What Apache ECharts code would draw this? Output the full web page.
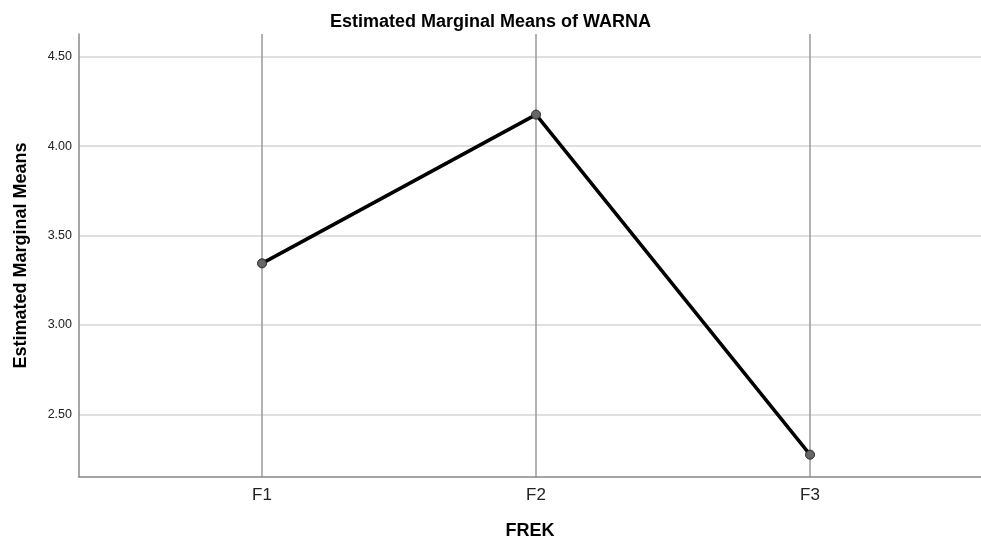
<!DOCTYPE html>
<html>
<head>
<meta charset="utf-8">
<script src="https://cdn.jsdelivr.net/npm/echarts@6/dist/echarts.min.js"></script>
<style>
html, body { margin: 0; padding: 0; background: #fff; }
#chart { width: 981px; height: 540px; }
</style>
</head>
<body>
<div id="chart"></div>
<script>
var categories = ['F1', 'F2', 'F3'];
var means = [3.344, 4.176, 2.274];
var yTicks = [2.5, 3.0, 3.5, 4.0, 4.5];

var font = 'Arial, "Liberation Sans", sans-serif';
var chart = echarts.init(document.getElementById('chart'));

// x is a value axis so the category positions can sit off-centre like the original
var points = [];
for (var i = 0; i < categories.length; i++) {
	points.push([i + 1, means[i]]);
}
var catPos = categories.map(function(c, i) { return i + 1; });

var option = {
	animation: false,
	title: {
		text: 'Estimated Marginal Means of WARNA',
		left: 'center',
		top: 8,
		textStyle: { fontFamily: font, fontSize: 18, fontWeight: 'bold', color: '#000' }
	},
	grid: {
		left: 79,
		right: 0,
		top: 34,
		bottom: 63,
		outerBoundsMode: 'none',
		containLabel: false
	},
	xAxis: {
		type: 'value',
		min: 0.332,
		max: 3.624,
		name: 'FREK',
		nameLocation: 'middle',
		nameGap: 45,
		nameTextStyle: { fontFamily: font, fontSize: 18, fontWeight: 'bold', color: '#000' },
		axisLine: { show: true, lineStyle: { color: '#888', width: 1.5 } },
		axisTick: { show: false, customValues: catPos },
		axisLabel: {
			customValues: catPos,
			margin: 10,
			fontFamily: font,
			fontSize: 17,
			color: '#222',
			formatter: function(v) { return categories[Math.round(v) - 1]; }
		},
		splitLine: { show: true, lineStyle: { color: '#9a9a9a', width: 1.5 } }
	},
	yAxis: {
		type: 'value',
		min: 2.149,
		max: 4.627,
		name: 'Estimated Marginal Means',
		nameLocation: 'middle',
		nameGap: 49,
		nameTextStyle: { fontFamily: font, fontSize: 18, fontWeight: 'bold', color: '#000' },
		axisLine: { show: true, lineStyle: { color: '#888', width: 1.5 } },
		axisTick: { show: false, customValues: yTicks },
		axisLabel: {
			customValues: yTicks,
			margin: 7,
			fontFamily: font,
			fontSize: 12.5,
			color: '#222',
			formatter: function(v) { return v.toFixed(2); }
		},
		splitLine: { show: true, lineStyle: { color: '#d4d4d4', width: 1.5 } }
	},
	series: [{
		type: 'line',
		data: points,
		symbol: 'circle',
		symbolSize: 9,
		lineStyle: { color: '#000', width: 3.5 },
		itemStyle: { color: '#666', borderColor: '#222', borderWidth: 1 },
		z: 5
	}]
};
chart.setOption(option);
</script>
</body>
</html>
